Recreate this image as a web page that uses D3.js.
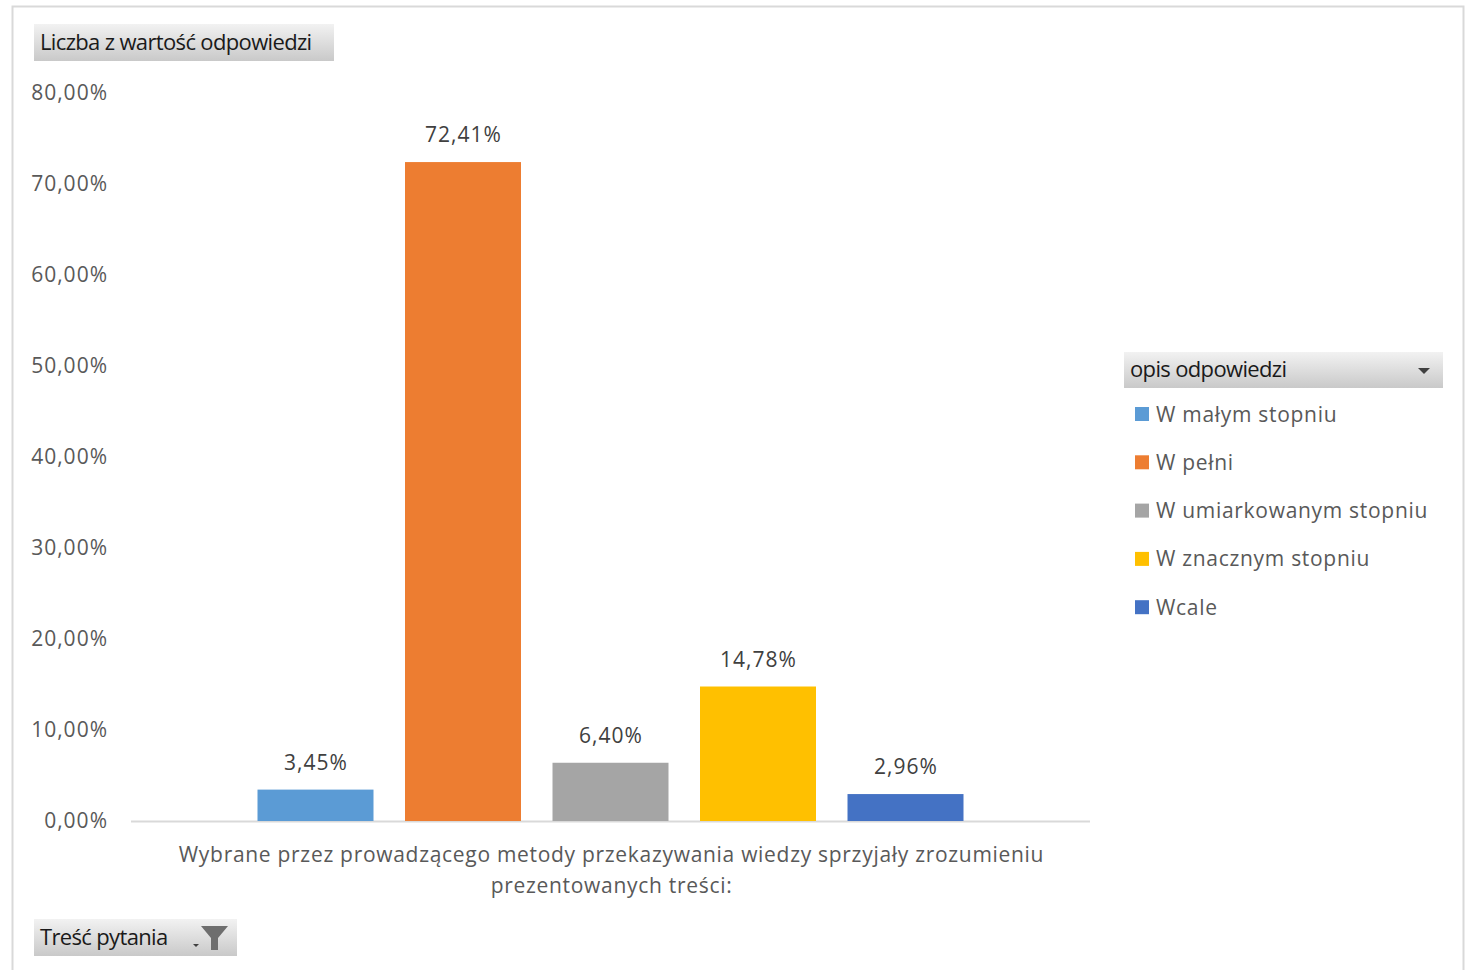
<!DOCTYPE html>
<html><head><meta charset="utf-8">
<script src="https://cdn.jsdelivr.net/npm/d3@7"></script>
<style>body{margin:0;background:#fff}svg{display:block}text{font-family:"Open Sans",sans-serif}</style>
</head><body><svg id="c" width="1468" height="970"></svg>
<script>
const categories = ["Wybrane przez prowadzącego metody przekazywania wiedzy sprzyjały zrozumieniu prezentowanych treści:"];
const categoryLines = ["Wybrane przez prowadzącego metody przekazywania wiedzy sprzyjały zrozumieniu", "prezentowanych treści:"];
const seriesNames = ["W małym stopniu", "W pełni", "W umiarkowanym stopniu", "W znacznym stopniu", "Wcale"];
const seriesValues = [3.45, 72.41, 6.40, 14.78, 2.96];
const seriesColors = ["#5b9bd5", "#ed7d31", "#a5a5a5", "#ffc000", "#4472c4"];
const yTicks = [0, 10, 20, 30, 40, 50, 60, 70, 80];
const fmt = v => d3.format(".2f")(v).replace(".", ",") + "%";

const svg = d3.select("#c");
const defs = svg.append("defs");
const g = defs.append("linearGradient").attr("id","btn").attr("x1",0).attr("y1",0).attr("x2",0).attr("y2",1);
g.append("stop").attr("offset","0%").attr("stop-color","#f2f2f2");
g.append("stop").attr("offset","100%").attr("stop-color","#c9c9c9");

// outer border
svg.append("rect").attr("x",12.5).attr("y",6.5).attr("width",1451).attr("height",980).attr("fill","none").attr("stroke","#d9d9d9").attr("stroke-width",2);

const y = d3.scaleLinear().domain([0, 80]).range([821, 93]);
const x0 = d3.scaleBand().domain(categories).range([131, 1090]);
const x1 = d3.scaleBand().domain(seriesNames).range([126.5, x0.bandwidth() - 126.5]).paddingInner(0.2136).paddingOuter(0);

const FS = 21;
// y axis labels
const yAxis = d3.axisLeft(y).tickValues(yTicks).tickFormat(fmt).tickSize(0).tickPadding(0);
const ya = svg.append("g").attr("transform","translate(108,0)").call(yAxis);
ya.select(".domain").remove();
ya.selectAll("text").attr("font-size",FS).attr("fill","#595959").attr("font-family","'Open Sans'").attr("letter-spacing","1px");

// baseline
svg.append("line").attr("x1",131).attr("x2",1090).attr("y1",y(0)+0.5).attr("y2",y(0)+0.5).attr("stroke","#d9d9d9").attr("stroke-width",2);

// bars
const grp = svg.append("g").attr("transform",`translate(${x0(categories[0])},0)`);
grp.selectAll("rect").data(seriesNames).join("rect")
  .attr("x", d => x1(d)).attr("width", x1.bandwidth())
  .attr("y", (d,i) => y(seriesValues[i])).attr("height", (d,i) => y(0) - y(seriesValues[i]))
  .attr("fill", (d,i) => seriesColors[i]);
grp.selectAll("text.lbl").data(seriesNames).join("text").attr("class","lbl")
  .attr("x", d => x1(d) + x1.bandwidth()/2 + 0.5).attr("y", (d,i) => y(seriesValues[i]) - 20)
  .attr("text-anchor","middle").attr("font-size",FS).attr("fill","#404040").attr("letter-spacing","1px")
  .text((d,i) => fmt(seriesValues[i]));

// category label
svg.append("g").selectAll("text").data(categoryLines).join("text")
  .attr("x", x0(categories[0]) + x0.bandwidth()/2 + 1).attr("y", (d,i) => 862 + i*31)
  .attr("text-anchor","middle").attr("font-size",FS).attr("fill","#595959").attr("letter-spacing","0.7px").text(d => d);

// field buttons
function button(x, yy, w, h, label) {
  svg.append("rect").attr("x",x).attr("y",yy).attr("width",w).attr("height",h).attr("fill","url(#btn)");
  svg.append("text").attr("x",x+6).attr("y",yy+h/2+7).attr("font-size",22).attr("fill","#1a1a1a")
    .attr("font-family","Lato,sans-serif").attr("letter-spacing","-0.65px").text(label);
}
button(34, 24, 300, 37, "Liczba z wartość odpowiedzi");
button(1124, 352, 319, 36, "opis odpowiedzi");
button(34, 919, 203, 37, "Treść pytania");
// dropdown arrow
svg.append("path").attr("d","M1418,368 L1430,368 L1424,374 Z").attr("fill","#404040");
// filter icon
svg.append("path").attr("d","M201,926 L228,926 L218,938 L218,950 L211,950 L211,938 Z").attr("fill","#6e6e6e");
svg.append("path").attr("d","M193,944 L199,944 L196,947 Z").attr("fill","#404040");

// legend
const leg = svg.append("g").selectAll("g").data(seriesNames).join("g")
  .attr("transform",(d,i) => `translate(1135,${414 + i*48.3})`);
leg.append("rect").attr("x",0).attr("y",-7).attr("width",14).attr("height",14).attr("fill",(d,i)=>seriesColors[i]);
leg.append("text").attr("x",21).attr("y",7.5).attr("font-size",FS).attr("fill","#595959").attr("letter-spacing","0.7px").text(d=>d);
</script></body></html>
